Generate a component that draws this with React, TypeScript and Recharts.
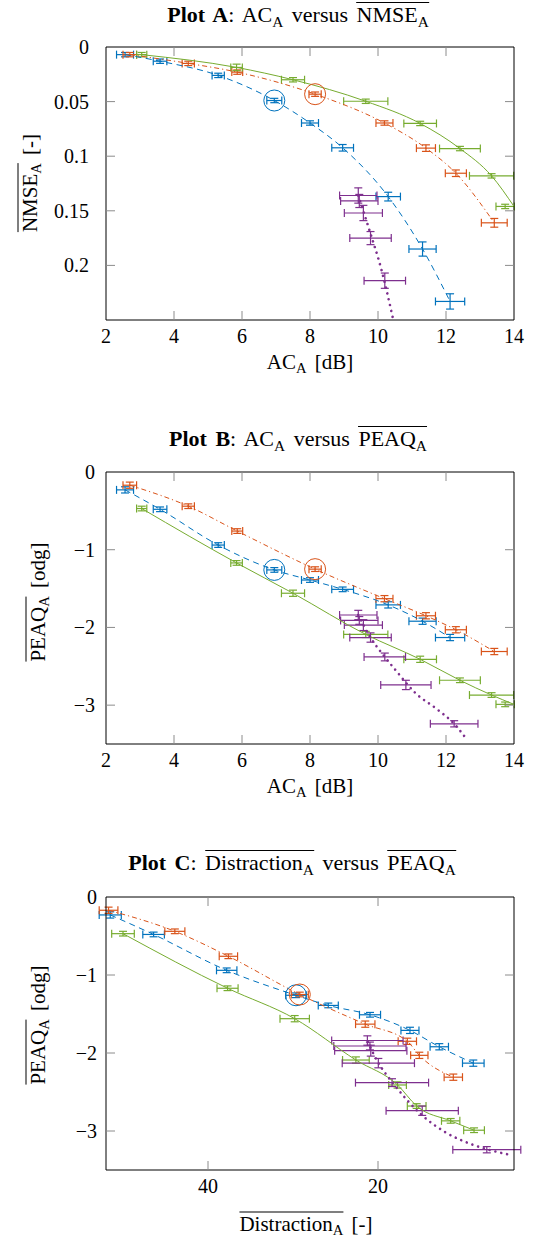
import React from 'react';
import { ScatterChart, Scatter, XAxis, YAxis, ErrorBar } from 'recharts';

const BLUE = '#0072BD';
const ORANGE = '#D95319';
const GREEN = '#77AC30';
const PURPLE = '#7E2F8E';
const TICK_GREY = '#8c8c8c';
const FONT = '"Liberation Serif", "Times New Roman", serif';

// AC_A [dB] (x of plot A and plot B)
const acBlue = [2.56, 3.59, 5.3, 6.95, 8.0, 8.96, 10.3, 11.31, 12.12];
const acBlueErr = [0.25, 0.2, 0.18, 0.22, 0.25, 0.32, 0.36, 0.4, 0.43];
const acOrange = [2.7, 4.42, 5.86, 8.15, 10.19, 11.41, 12.29, 13.42];
const acOrangeErr = [0.2, 0.18, 0.16, 0.18, 0.25, 0.28, 0.31, 0.38];
const acGreen = [3.05, 5.84, 7.5, 9.64, 11.24, 12.41, 13.34, 13.74];
const acGreenErr = [0.15, 0.17, 0.34, 0.65, 0.48, 0.6, 0.65, 0.27];
const acPurple = [9.42, 9.45, 9.57, 9.78, 10.2, 10.82, 12.24];
const acPurpleErr = [0.55, 0.55, 0.56, 0.61, 0.61, 0.74, 0.7];

// NMSE_A [-] (plot A, the last purple points fall below the axis)
const nmseBlue = [0.007, 0.013, 0.026, 0.049, 0.0696, 0.0923, 0.137, 0.185, 0.233];
const nmseBlueErr = [0.002, 0.002, 0.002, 0.002, 0.002, 0.003, 0.004, 0.0065, 0.007];
const nmseOrange = [0.007, 0.015, 0.023, 0.0432, 0.0696, 0.0926, 0.1156, 0.161];
const nmseOrangeErr = [0.002, 0.002, 0.002, 0.002, 0.002, 0.003, 0.003, 0.004];
const nmseGreen = [0.007, 0.0187, 0.03, 0.0497, 0.07, 0.093, 0.118, 0.146];
const nmseGreenErr = [0.002, 0.003, 0.002, 0.002, 0.002, 0.002, 0.002, 0.002];
const nmsePurple = [0.136, 0.141, 0.152, 0.175, 0.214];
const nmsePurpleErr = [0.007, 0.006, 0.007, 0.006, 0.007];

// PEAQ_A [odg] (y of plot B and plot C)
const peaqBlue = [-0.23, -0.48, -0.94, -1.26, -1.39, -1.51, -1.71, -1.92, -2.13];
const peaqBlueErr = [0.04, 0.03, 0.03, 0.03, 0.03, 0.03, 0.04, 0.04, 0.04];
const peaqOrange = [-0.17, -0.44, -0.76, -1.25, -1.63, -1.85, -2.03, -2.31];
const peaqOrangeErr = [0.04, 0.03, 0.03, 0.03, 0.04, 0.04, 0.04, 0.04];
const peaqGreen = [-0.47, -1.17, -1.56, -2.09, -2.41, -2.68, -2.87, -2.99];
const peaqGreenErr = [0.03, 0.03, 0.04, 0.04, 0.04, 0.03, 0.03, 0.03];
const peaqPurple = [-1.84, -1.91, -1.97, -2.13, -2.38, -2.74, -3.24];
const peaqPurpleErr = [0.06, 0.05, 0.07, 0.06, 0.05, 0.06, 0.04];

// Distraction_A [-] (x of plot C)
const distBlue = [51.5, 46.4, 37.8, 29.65, 25.85, 20.94, 16.24, 12.79, 8.79];
const distBlueErr = [1.3, 1.27, 1.2, 1.2, 1.18, 1.24, 1.06, 1.08, 1.27];
const distOrange = [51.7, 43.9, 37.6, 29.2, 21.5, 16.55, 15.14, 11.14];
const distOrangeErr = [1.1, 1.18, 1.08, 1.0, 1.14, 1.08, 1.02, 1.08];
const distGreen = [50.0, 37.7, 29.8, 22.6, 17.7, 15.45, 11.45, 8.7];
const distGreenErr = [1.33, 1.24, 1.73, 1.57, 1.04, 1.1, 1.08, 1.22];
const distPurple = [21.25, 20.95, 20.85, 19.96, 18.35, 14.8, 7.2];
const distPurpleErr = [4.2, 4.25, 4.25, 4.25, 4.3, 4.25, 4.0];

// in plots A and B the green curve leaves the last point aside and runs to the border
const greenEndA = { x: 14, y: 0.146 };
const greenEndB = { x: 14, y: -2.99 };

// dotted purple trend
const trendAx = [9.42, 9.74, 10.11, 10.45];
const trendAy = [0.136, 0.167, 0.205, 0.25];
const trendBx = [9.42, 9.78, 10.2, 10.5, 11.09, 11.73, 12.24, 12.61];
const trendBy = [-1.84, -2.13, -2.38, -2.54, -2.84, -3.05, -3.24, -3.44];
const trendCx = [21.2, 20.1, 18.2, 15.0, 12.0, 9.0, 7.0, 4.7];
const trendCy = [-1.86, -2.1, -2.39, -2.78, -3.02, -3.17, -3.24, -3.3];

// the circled condition in each series
const RING = 3;

const acTicks = [2, 4, 6, 8, 10, 12, 14];
const nmseTicks = [0, 0.05, 0.1, 0.15, 0.2];
const peaqTicks = [-3, -2, -1, 0];
const distTicks = [20, 40];

const pts = (xs: number[], ys: number[], exs: number[], eys: number[]) =>
  ys.map((y, i) => ({ x: xs[i], y, ex: exs[i], ey: eys[i] }));
const line = (xs: number[], ys: number[]) => ys.map((y, i) => ({ x: xs[i], y }));

const isEnd = (v: number, ends: number[]) => ends.some((e) => Math.abs(e - v) < 1e-9);
const minus = (v: number) => (v < 0 ? '\u2212' + Math.abs(v) : String(v));

// all ticks point inwards, tickSize/tickMargin are 0 so x/y sit on the axis line
const BottomTick = (props: any) => {
  const { x, y, payload, ends } = props;
  return (
    <g>
      {!isEnd(payload.value, ends) && <line x1={x} x2={x} y1={y} y2={y - 9} stroke={TICK_GREY} />}
      <text x={x} y={y + 16} textAnchor="middle" dominantBaseline="central" style={{ fontFamily: FONT }} fontSize={20} fill="#000">
        {String(payload.value)}
      </text>
    </g>
  );
};

const TopTick = (props: any) => {
  const { x, y, payload, ends } = props;
  if (isEnd(payload.value, ends)) return <g />;
  return <line x1={x} x2={x} y1={y} y2={y + 9} stroke={TICK_GREY} />;
};

const LeftTick = (props: any) => {
  const { x, y, payload, ends, gap, fmt } = props;
  return (
    <g>
      {!isEnd(payload.value, ends) && <line x1={x} x2={x + 9} y1={y} y2={y} stroke={TICK_GREY} />}
      <text x={x - gap} y={y} textAnchor="end" dominantBaseline="central" style={{ fontFamily: FONT }} fontSize={20} fill="#000">
        {fmt(payload.value)}
      </text>
    </g>
  );
};

const RightTick = (props: any) => {
  const { x, y, payload, ends } = props;
  if (isEnd(payload.value, ends)) return <g />;
  return <line x1={x} x2={x - 9} y1={y} y2={y} stroke={TICK_GREY} />;
};

const noMark = () => <g />;
const ring = (color: string) => (props: any) =>
  <circle cx={props.cx} cy={props.cy} r={10.5} fill="none" stroke={color} strokeWidth={1} />;

type Pt = { x: number; y: number };
type Series = { data: any[]; color: string; dash: string | null; curve?: Pt[] };

interface PanelProps {
  top: number;
  height: number;
  plotTop: number;
  plotBottom: number;
  xDomain: number[];
  xTicks: number[];
  xReversed?: boolean;
  yDomain: number[];
  yTicks: number[];
  yReversed?: boolean;
  yFmt: (v: number) => string;
  yGap: number;
  series: Series[];
  trend: Pt[];
  rings: { x: number; y: number; color: string }[];
}

const PLOT_LEFT = 106;
const PLOT_RIGHT = 514;
const X_AXIS_H = 30;

function Panel(p: PanelProps) {
  // top axis and right axis are 1px wide, they only carry the mirrored ticks
  const margin = {
    top: p.plotTop - p.top - 1,
    right: 542 - PLOT_RIGHT - 1,
    bottom: p.top + p.height - p.plotBottom - X_AXIS_H,
    left: 0,
  };
  const axisLine = { stroke: '#000', strokeWidth: 1 };
  return (
    <div style={{ position: 'absolute', left: 0, top: p.top }}>
      <ScatterChart width={542} height={p.height} margin={margin}>
        <XAxis type="number" dataKey="x" domain={p.xDomain} ticks={p.xTicks} reversed={p.xReversed}
          allowDataOverflow height={X_AXIS_H} tickSize={0} tickMargin={0} interval={0} tickLine={false}
          axisLine={axisLine} tick={<BottomTick ends={p.xDomain} />} />
        <XAxis xAxisId="top" orientation="top" type="number" dataKey="x" domain={p.xDomain} ticks={p.xTicks}
          reversed={p.xReversed} allowDataOverflow height={1} tickSize={0} tickMargin={0} interval={0}
          tickLine={false} axisLine={axisLine} tick={<TopTick ends={p.xDomain} />} />
        <YAxis type="number" dataKey="y" domain={p.yDomain} ticks={p.yTicks} reversed={p.yReversed}
          allowDataOverflow width={PLOT_LEFT} tickSize={0} tickMargin={0} interval={0} tickLine={false}
          axisLine={axisLine} tick={<LeftTick ends={p.yDomain} gap={p.yGap} fmt={p.yFmt} />} />
        <YAxis yAxisId="right" orientation="right" type="number" dataKey="y" domain={p.yDomain} ticks={p.yTicks}
          reversed={p.yReversed} allowDataOverflow width={1} tickSize={0} tickMargin={0} interval={0}
          tickLine={false} axisLine={axisLine} tick={<RightTick ends={p.yDomain} />} />

        {/* connecting curves */}
        {p.series.filter((s) => s.dash).map((s, i) => (
          <Scatter key={'l' + i} data={s.curve || s.data.map((d) => ({ x: d.x, y: d.y }))}
            shape={noMark} isAnimationActive={false} lineType="joint" lineJointType="monotoneX"
            line={{ stroke: s.color, strokeWidth: 1, strokeDasharray: s.dash as string }} />
        ))}

        {/* error bars */}
        {p.series.map((s, i) => (
          <Scatter key={'e' + i} data={s.data} fill={s.color} shape={noMark} isAnimationActive={false}>
            <ErrorBar dataKey="ex" direction="x" width={4} stroke={s.color} strokeWidth={1.2} isAnimationActive={false} />
            <ErrorBar dataKey="ey" direction="y" width={4} stroke={s.color} strokeWidth={1.2} isAnimationActive={false} />
          </Scatter>
        ))}

        <Scatter data={p.trend} shape={noMark} isAnimationActive={false} lineType="joint" lineJointType="monotoneX"
          line={{ stroke: PURPLE, strokeWidth: 2.6, strokeDasharray: '0.01 6', strokeLinecap: 'round' }} />

        {p.rings.map((r, i) => (
          <Scatter key={'r' + i} data={[{ x: r.x, y: r.y }]} shape={ring(r.color)} isAnimationActive={false} />
        ))}
      </ScatterChart>
    </div>
  );
}

const Sub = ({ children }: any) => (
  <span style={{ fontSize: '0.7em', position: 'relative', top: '0.3em' }}>{children}</span>
);
// overline drawn as a border so it also spans the subscript
const Bar = ({ children }: any) => (
  <span style={{ display: 'inline-block', borderTop: '1px solid #000', lineHeight: 1, paddingTop: 1 }}>{children}</span>
);
const Txt = ({ cx, cy, size, rotate, children }: any) => (
  <div
    style={{
      position: 'absolute',
      left: cx,
      top: cy,
      transform: `translate(-50%, -50%)${rotate ? ' rotate(-90deg)' : ''}`,
      fontFamily: FONT,
      fontSize: size,
      lineHeight: 1,
      whiteSpace: 'nowrap',
      wordSpacing: 3,
      color: '#000',
    }}
  >
    {children}
  </div>
);

const DASHED = '6 4.5';
const DASHDOT = '5 3 1.2 3';
const SOLID = 'none';

export default function App() {
  return (
    <div style={{ position: 'absolute', left: 0, top: 0, width: 542, height: 1239, background: '#fff' }}>
      {/* Plot A */}
      <Panel
        top={0} height={360} plotTop={47} plotBottom={320}
        xDomain={[2, 14]} xTicks={acTicks}
        yDomain={[0, 0.25]} yTicks={nmseTicks} yReversed yFmt={(v) => String(v)} yGap={17}
        series={[
          { data: pts(acBlue, nmseBlue, acBlueErr, nmseBlueErr), color: BLUE, dash: DASHED },
          { data: pts(acOrange, nmseOrange, acOrangeErr, nmseOrangeErr), color: ORANGE, dash: DASHDOT },
          {
            data: pts(acGreen, nmseGreen, acGreenErr, nmseGreenErr), color: GREEN, dash: SOLID,
            curve: [...line(acGreen.slice(0, 7), nmseGreen.slice(0, 7)), greenEndA],
          },
          { data: pts(acPurple, nmsePurple, acPurpleErr, nmsePurpleErr), color: PURPLE, dash: null },
        ]}
        trend={line(trendAx, trendAy)}
        rings={[
          { x: acBlue[RING], y: nmseBlue[RING], color: BLUE },
          { x: acOrange[RING], y: nmseOrange[RING], color: ORANGE },
        ]}
      />
      <Txt cx={298} cy={14} size={22}>
        <b>Plot A</b>: AC<Sub>A</Sub> versus <Bar>NMSE<Sub>A</Sub></Bar>
      </Txt>
      <Txt cx={310} cy={362} size={21}>AC<Sub>A</Sub> [dB]</Txt>
      <Txt cx={29} cy={183} size={21} rotate>
        <Bar>NMSE<Sub>A</Sub></Bar> [-]
      </Txt>

      {/* Plot B */}
      <Panel
        top={420} height={380} plotTop={472} plotBottom={744}
        xDomain={[2, 14]} xTicks={acTicks}
        yDomain={[-3.5, 0]} yTicks={peaqTicks} yFmt={minus} yGap={11}
        series={[
          { data: pts(acBlue, peaqBlue, acBlueErr, peaqBlueErr), color: BLUE, dash: DASHED },
          { data: pts(acOrange, peaqOrange, acOrangeErr, peaqOrangeErr), color: ORANGE, dash: DASHDOT },
          {
            data: pts(acGreen, peaqGreen, acGreenErr, peaqGreenErr), color: GREEN, dash: SOLID,
            curve: [...line(acGreen.slice(0, 7), peaqGreen.slice(0, 7)), greenEndB],
          },
          { data: pts(acPurple, peaqPurple, acPurpleErr, peaqPurpleErr), color: PURPLE, dash: null },
        ]}
        trend={line(trendBx, trendBy)}
        rings={[
          { x: acBlue[RING], y: peaqBlue[RING], color: BLUE },
          { x: acOrange[RING], y: peaqOrange[RING], color: ORANGE },
        ]}
      />
      <Txt cx={298} cy={438} size={22}>
        <b>Plot B</b>: AC<Sub>A</Sub> versus <Bar>PEAQ<Sub>A</Sub></Bar>
      </Txt>
      <Txt cx={310} cy={786} size={21}>AC<Sub>A</Sub> [dB]</Txt>
      <Txt cx={37} cy={602} size={21} rotate>
        <Bar>PEAQ<Sub>A</Sub></Bar> [odg]
      </Txt>

      {/* Plot C */}
      <Panel
        top={850} height={389} plotTop={897} plotBottom={1170}
        xDomain={[4, 52]} xTicks={distTicks} xReversed
        yDomain={[-3.5, 0]} yTicks={peaqTicks} yFmt={minus} yGap={9}
        series={[
          { data: pts(distBlue, peaqBlue, distBlueErr, peaqBlueErr), color: BLUE, dash: DASHED },
          { data: pts(distOrange, peaqOrange, distOrangeErr, peaqOrangeErr), color: ORANGE, dash: DASHDOT },
          { data: pts(distGreen, peaqGreen, distGreenErr, peaqGreenErr), color: GREEN, dash: SOLID },
          { data: pts(distPurple, peaqPurple, distPurpleErr, peaqPurpleErr), color: PURPLE, dash: null },
        ]}
        trend={line(trendCx, trendCy)}
        rings={[
          { x: distBlue[RING], y: peaqBlue[RING], color: BLUE },
          { x: distOrange[RING], y: peaqOrange[RING], color: ORANGE },
        ]}
      />
      <Txt cx={292} cy={862} size={22}>
        <b>Plot C</b>: <Bar>Distraction<Sub>A</Sub></Bar> versus <Bar>PEAQ<Sub>A</Sub></Bar>
      </Txt>
      <Txt cx={306} cy={1223} size={21}>
        <Bar>Distraction<Sub>A</Sub></Bar> [-]
      </Txt>
      <Txt cx={37} cy={1025} size={21} rotate>
        <Bar>PEAQ<Sub>A</Sub></Bar> [odg]
      </Txt>
    </div>
  );
}
